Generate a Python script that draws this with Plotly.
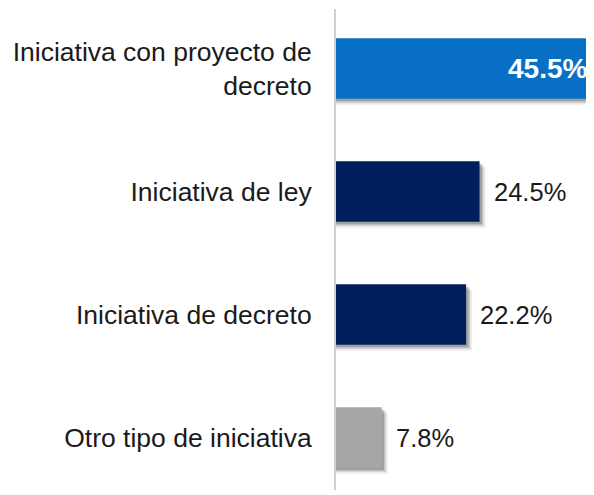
import plotly.graph_objects as go

categories = ["Iniciativa con proyecto de<br>decreto", "Iniciativa de ley",
              "Iniciativa de decreto", "Otro tipo de iniciativa"]
values = [45.5, 24.5, 22.2, 7.8]
colors = ["#0870C4", "#001F5C", "#001F5C", "#A6A6A6"]
label_inside = [True, False, False, False]

FONT = "Liberation Sans, Arial, sans-serif"
PAGE_OFFSET = 8  # default body margin of the html page
W, H = 594 - PAGE_OFFSET, 495 - PAGE_OFFSET
ml, mr, mt, mb = 336 - PAGE_OFFSET, 0, 9 - PAGE_OFFSET, 5
px_per_unit = 5.86
slot_px = 123
bar_w = 0.49
xmax = (W - ml - mr) / px_per_unit
top = -59.5 / slot_px
bottom = top + (H - mt - mb) / slot_px

fig = go.Figure()
# soft shadow layers
for dpx, alpha in [(6, 0.08), (4, 0.14), (2.5, 0.2)]:
    fig.add_trace(go.Bar(
        y=categories, x=[v + dpx / px_per_unit for v in values], orientation="h",
        width=bar_w, offset=-bar_w / 2 + dpx / slot_px,
        marker=dict(color=f"rgba(0,0,0,{alpha})", line=dict(width=0)),
        hoverinfo="skip", showlegend=False))

fig.add_trace(go.Bar(
    y=categories, x=values, orientation="h",
    width=bar_w, offset=-bar_w / 2,
    marker=dict(color=colors, line=dict(width=0)),
    showlegend=False))

for cat, v, inside in zip(categories, values, label_inside):
    if inside:
        fig.add_annotation(
            x=min(v, xmax), y=cat, xref="x", yref="y", text=f"{v:.1f}%",
            showarrow=False, xanchor="right", xshift=-5,
            font=dict(family=FONT, size=28, color="white", weight="bold"))
    else:
        fig.add_annotation(
            x=v, y=cat, xref="x", yref="y", text=f"{v:.1f}%",
            showarrow=False, xanchor="left", xshift=12,
            font=dict(family=FONT, size=25.5, color="#1a1a1a"))

fig.update_layout(
    width=W, height=H,
    margin=dict(l=ml, r=mr, t=mt, b=mb, autoexpand=False),
    barmode="overlay",
    plot_bgcolor="white", paper_bgcolor="white",
    xaxis=dict(range=[0, xmax], visible=False, fixedrange=True, automargin=False),
    yaxis=dict(range=[bottom, top], showline=True, linecolor="#D0D0D0", linewidth=2,
               showgrid=False, zeroline=False, ticks="", ticklabelstandoff=17,
               automargin=False,
               tickfont=dict(family=FONT, size=26.5, color="#1a1a1a")),
)

fig.write_html("out.html")
